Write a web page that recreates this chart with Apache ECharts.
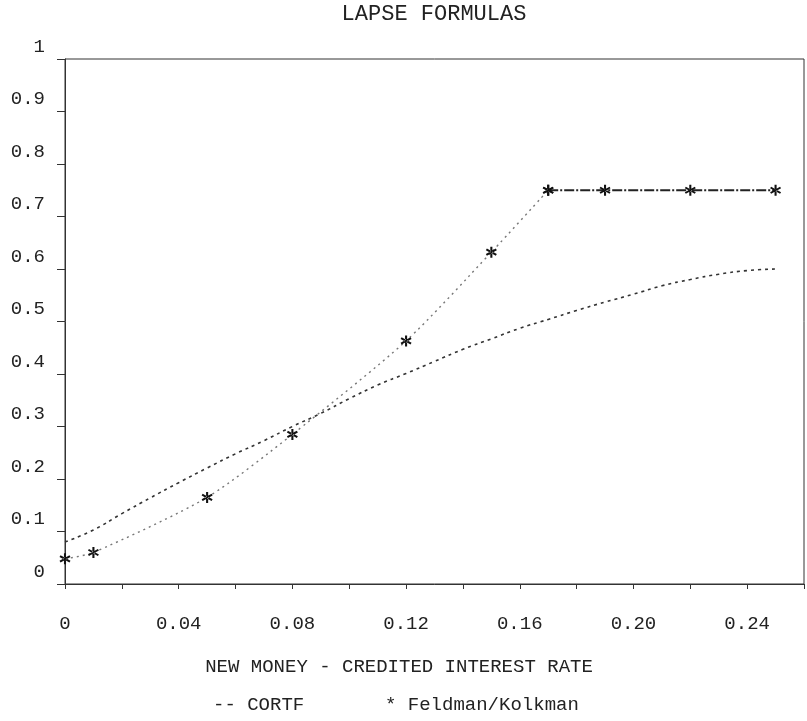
<!DOCTYPE html>
<html>
<head>
<meta charset="utf-8">
<title>Lapse formulas</title>
<script src="https://cdn.jsdelivr.net/npm/echarts@6/dist/echarts.min.js"></script>
<style>
  html, body { margin: 0; padding: 0; background: #fff; }
  #chart { width: 807px; height: 721px; }
</style>
</head>
<body>
<div id="chart"></div>
<script>
// tick labels
var xTickLabels = ['0', '0.04', '0.08', '0.12', '0.16', '0.20', '0.24'];
var yTickLabels = ['0', '0.1', '0.2', '0.3', '0.4', '0.5', '0.6', '0.7', '0.8', '0.9', '1'];

// CORTF curve
var cortfX = [0, 0.01, 0.02, 0.03, 0.04, 0.05, 0.06, 0.07, 0.08, 0.09, 0.10, 0.11, 0.12,
              0.13, 0.14, 0.15, 0.16, 0.17, 0.18, 0.19, 0.20, 0.21, 0.22, 0.23, 0.24, 0.25];
var cortfY = [0.080, 0.103, 0.134, 0.164, 0.193, 0.221, 0.248, 0.273, 0.300, 0.325, 0.353, 0.379, 0.401,
              0.424, 0.447, 0.467, 0.487, 0.504, 0.521, 0.537, 0.552, 0.568, 0.580, 0.590, 0.597, 0.600];

// Feldman/Kolkman points (stars)
var fkX = [0, 0.01, 0.05, 0.08, 0.12, 0.15, 0.17, 0.19, 0.22, 0.25];
var fkY = [0.048, 0.060, 0.165, 0.285, 0.463, 0.632, 0.750, 0.750, 0.750, 0.750];
var fkKink = 6; // index where the formula caps out

function pairs(xs, ys) {
    return xs.map(function (x, i) { return [x, ys[i]]; });
}
var cortfData = pairs(cortfX, cortfY);
var fkData = pairs(fkX, fkY);

var ink = '#222';
var font = 'Liberation Mono';
// asterisk marker, three thin bars
var asterisk = 'path://M-0.9,-5L0.9,-5L0.9,5L-0.9,5Z' +
    'M3.88,3.28L4.78,1.72L-3.88,-3.28L-4.78,-1.72Z' +
    'M-3.88,3.28L-4.78,1.72L3.88,-3.28L4.78,-1.72Z';

var chart = echarts.init(document.getElementById('chart'));
var option = {
    backgroundColor: '#fff',
    animation: false,
    title: {
        text: 'LAPSE FORMULAS',
        left: 434,
        top: 3,
        padding: 0,
        textAlign: 'center',
        textStyle: { fontFamily: font, fontSize: 22, fontWeight: 'normal', color: ink }
    },
    grid: {
        left: 65, right: 3, top: 59, bottom: 137,
        show: true, borderColor: '#333', borderWidth: 1
    },
    xAxis: {
        type: 'value',
        min: 0, max: 0.26, interval: 0.02,
        axisLine: { lineStyle: { color: '#333', width: 1 } },
        axisTick: { show: true, length: 5, lineStyle: { color: '#333' } },
        splitLine: { show: false },
        axisLabel: {
            margin: 30,
            fontFamily: font, fontSize: 19, color: ink,
            showMaxLabel: true,
            formatter: function (v) {
                var i = Math.round(v / 0.04);
                return Math.abs(v - i * 0.04) < 1e-6 && xTickLabels[i] !== undefined ? xTickLabels[i] : '';
            }
        }
    },
    yAxis: {
        type: 'value',
        min: 0, max: 1, interval: 0.1,
        axisLine: { show: true, lineStyle: { color: '#333', width: 1 } },
        axisTick: { show: true, length: 8, lineStyle: { color: '#333' } },
        splitLine: { show: false },
        axisLabel: {
            margin: 20,
            fontFamily: font, fontSize: 19, color: ink,
            verticalAlign: 'bottom',
            padding: [0, 0, 3, 0],
            formatter: function (v) {
                return yTickLabels[Math.round(v * 10)];
            }
        }
    },
    series: [
        {
            name: 'CORTF',
            type: 'line',
            data: cortfData,
            smooth: true,
            symbol: 'none',
            lineStyle: { color: '#333', width: 1.6, type: [3, 4] }
        },
        {
            name: 'Feldman/Kolkman',
            type: 'line',
            data: fkData.slice(0, fkKink + 1),
            smooth: 0.25,
            symbol: asterisk,
            symbolSize: 11,
            itemStyle: { color: '#111' },
            lineStyle: { color: '#777', width: 1.4, type: [2, 4] }
        },
        {
            name: 'Feldman/Kolkman',
            type: 'line',
            data: fkData.slice(fkKink),
            symbol: asterisk,
            symbolSize: 11,
            itemStyle: { color: '#111' },
            lineStyle: { color: '#222', width: 1.8, type: [10, 2, 2, 2] }
        }
    ],
    graphic: [
        {
            type: 'text', x: 399, y: 667,
            style: { text: 'NEW MONEY - CREDITED INTEREST RATE', font: '19px "Liberation Mono"',
                     fill: ink, textAlign: 'center', textVerticalAlign: 'middle' }
        },
        {
            type: 'text', x: 213, y: 705,
            style: { text: '-- CORTF', font: '19px "Liberation Mono"',
                     fill: ink, textAlign: 'left', textVerticalAlign: 'middle' }
        },
        {
            type: 'text', x: 385, y: 705,
            style: { text: '* Feldman/Kolkman', font: '19px "Liberation Mono"',
                     fill: ink, textAlign: 'left', textVerticalAlign: 'middle' }
        }
    ]
};
chart.setOption(option);
</script>
</body>
</html>
